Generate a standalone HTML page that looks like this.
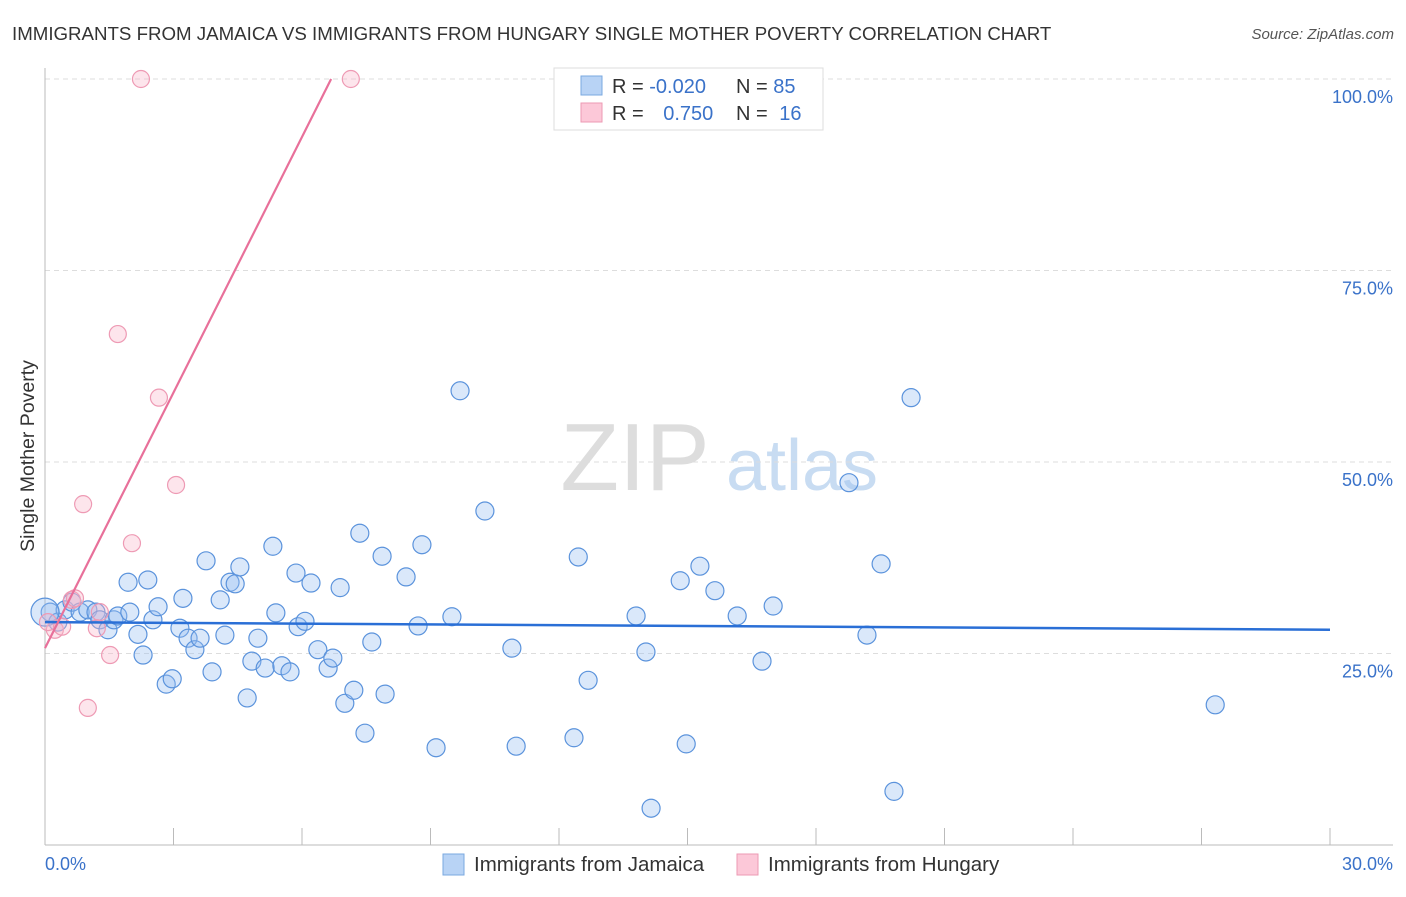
<!DOCTYPE html>
<html><head><meta charset="utf-8">
<style>
body{margin:0;background:#fff;font-family:"Liberation Sans",sans-serif;}
svg text{font-family:"Liberation Sans",sans-serif;}
</style></head>
<body>
<svg id="chart" width="1406" height="892" viewBox="0 0 1406 892" xmlns="http://www.w3.org/2000/svg">
<text x="12" y="40" font-size="18.7" fill="#333">IMMIGRANTS FROM JAMAICA VS IMMIGRANTS FROM HUNGARY SINGLE MOTHER POVERTY CORRELATION CHART</text>
<text x="1394" y="39" font-size="15" fill="#555" text-anchor="end" font-style="italic">Source: ZipAtlas.com</text>
<text transform="translate(34,456) rotate(-90)" font-size="19.5" fill="#333" text-anchor="middle">Single Mother Poverty</text>
<g>
<text x="635" y="490" font-size="96" fill="#ddd" text-anchor="middle" font-family="Liberation Serif">ZIP</text>
<text x="802" y="490" font-size="72" fill="#c8dcf2" text-anchor="middle">atlas</text>
</g>
<g id="grid"></g>
<g id="axes"></g>
<g id="marks"></g>
<g>
<rect x="554" y="68" width="269" height="62" fill="#fff" stroke="#ddd"/>
<rect x="581" y="76" width="21" height="19" fill="#b8d3f5" stroke="#7aa8e0"/>
<rect x="581" y="103" width="21" height="19" fill="#fcc8d8" stroke="#ec9ab3"/>
<text x="612" y="93" font-size="20" fill="#333">R = <tspan fill="#3a72c9">-0.020</tspan></text>
<text x="736" y="93" font-size="20" fill="#333">N = <tspan fill="#3a72c9">85</tspan></text>
<text x="612" y="120" font-size="20" fill="#333">R = <tspan fill="#3a72c9" dx="14">0.750</tspan></text>
<text x="736" y="120" font-size="20" fill="#333">N = <tspan fill="#3a72c9" dx="6">16</tspan></text>
</g>
<g>
<rect x="443" y="854" width="21" height="21" fill="#b8d3f5" stroke="#7aa8e0"/>
<text x="474" y="871" font-size="20.5" fill="#333">Immigrants from Jamaica</text>
<rect x="737" y="854" width="21" height="21" fill="#fcc8d8" stroke="#ec9ab3"/>
<text x="768" y="871" font-size="20.5" fill="#333">Immigrants from Hungary</text>
</g>
</svg>
<script>
const blueX=[0.12,0.30,0.47,0.63,0.82,1.00,1.19,1.28,1.47,1.61,1.70,1.94,1.98,2.17,2.29,2.40,2.52,2.64,2.83,2.97,3.15,3.22,3.34,3.50,3.62,3.76,3.90,4.09,4.20,4.32,4.44,4.55,4.72,4.83,4.97,5.14,5.32,5.39,5.53,5.72,5.86,5.91,6.07,6.21,6.37,6.61,6.72,6.89,7.00,7.21,7.35,7.47,7.63,7.87,7.94,8.43,8.71,8.80,9.13,9.50,9.69,10.27,10.90,11.00,12.35,12.45,12.68,13.80,14.03,14.15,14.83,14.97,15.29,15.64,16.16,16.74,17.00,18.77,19.19,19.52,19.82,20.22,27.32,0.0];
const blueY=[30.4,29.1,30.7,31.7,30.4,30.7,30.4,29.4,28.1,29.4,29.9,34.3,30.4,27.5,24.8,34.6,29.4,31.1,21.0,21.7,28.3,32.2,27.0,25.5,27.0,37.1,22.6,32.0,27.4,34.3,34.1,36.3,19.2,24.0,27.0,23.1,39.0,30.3,23.4,22.6,35.5,28.5,29.2,34.2,25.5,23.1,24.4,33.6,18.5,20.2,40.7,14.6,26.5,37.7,19.7,35.0,28.6,39.2,12.7,29.8,59.3,43.6,25.7,12.9,14.0,37.6,21.5,29.9,25.2,4.8,34.5,13.2,36.4,33.2,29.9,24.0,31.2,47.3,27.4,36.7,7.0,58.4,18.3,30.4];
const pinkX=[2.24,7.14,1.70,2.66,3.06,0.89,2.03,0.63,1.28,1.21,1.52,1.00,0.23,0.07,0.40,0.70];
const pinkY=[100,100,66.7,58.4,47.0,44.5,39.4,32.0,30.4,28.3,24.8,17.9,28.1,29.1,28.5,32.2];
const blueTrend=[[0,29.1],[30,28.1]];
const pinkTrend=[[0,25.7],[6.68,100]];
const yTicks=[25,50,75,100];
const yTickLabels=["25.0%","50.0%","75.0%","100.0%"];
const xTicks=[0,3,6,9,12,15,18,21,24,27,30];

const NS="http://www.w3.org/2000/svg";
const X=v=>45+v/30*1285;
const Y=v=>845-v/100*766;
function mk(tag,attrs,parent){const e=document.createElementNS(NS,tag);for(const k in attrs)e.setAttribute(k,attrs[k]);parent.appendChild(e);return e;}
const grid=document.getElementById('grid'),axes=document.getElementById('axes'),marks=document.getElementById('marks');
yTicks.forEach((t,i)=>{
  const l=mk('line',{x1:45,x2:1393,y1:Y(t),y2:Y(t),stroke:'#ddd','stroke-dasharray':'5,4'},grid);
  
  
  const tx=mk('text',{x:1393,y:Y(t)+24,'font-size':18,fill:'#3a72c9','text-anchor':'end'},axes);
  tx.textContent=yTickLabels[i];
  
  
});
const ax=mk('line',{x1:45,x2:1393,y1:845,y2:845,stroke:'#bbb'},axes);


const ay=mk('line',{x1:45,x2:45,y1:68,y2:845,stroke:'#bbb'},axes);


xTicks.forEach(t=>{
  const l=mk('line',{x1:X(t),x2:X(t),y1:828,y2:845,stroke:'#bbb'},axes);
  
  
});
const x0=mk('text',{x:45,y:870,'font-size':18,fill:'#3a72c9'},axes);x0.textContent='0.0%';


const x1=mk('text',{x:1393,y:870,'font-size':18,fill:'#3a72c9','text-anchor':'end'},axes);x1.textContent='30.0%';



blueX.forEach((v,i)=>{
  const r=(i===blueX.length-1)?14:9;
  const c=mk('circle',{cx:X(v),cy:Y(blueY[i]),r:r,fill:'rgba(150,190,240,0.35)',stroke:'#5b93dc','stroke-width':1.2},marks);
  
  
});
pinkX.forEach((v,i)=>{
  const c=mk('circle',{cx:X(v),cy:Y(pinkY[i]),r:8.5,fill:'rgba(250,180,200,0.35)',stroke:'#ee9ab4','stroke-width':1.2},marks);
  
  
});
const bt=mk('line',{x1:X(blueTrend[0][0]),y1:Y(blueTrend[0][1]),x2:X(blueTrend[1][0]),y2:Y(blueTrend[1][1]),stroke:'#2a6fd6','stroke-width':2.5},marks);


const pt=mk('line',{x1:X(pinkTrend[0][0]),y1:Y(pinkTrend[0][1]),x2:X(pinkTrend[1][0]),y2:Y(pinkTrend[1][1]),stroke:'#e8709a','stroke-width':2.2},marks);


</script>
</body></html>
